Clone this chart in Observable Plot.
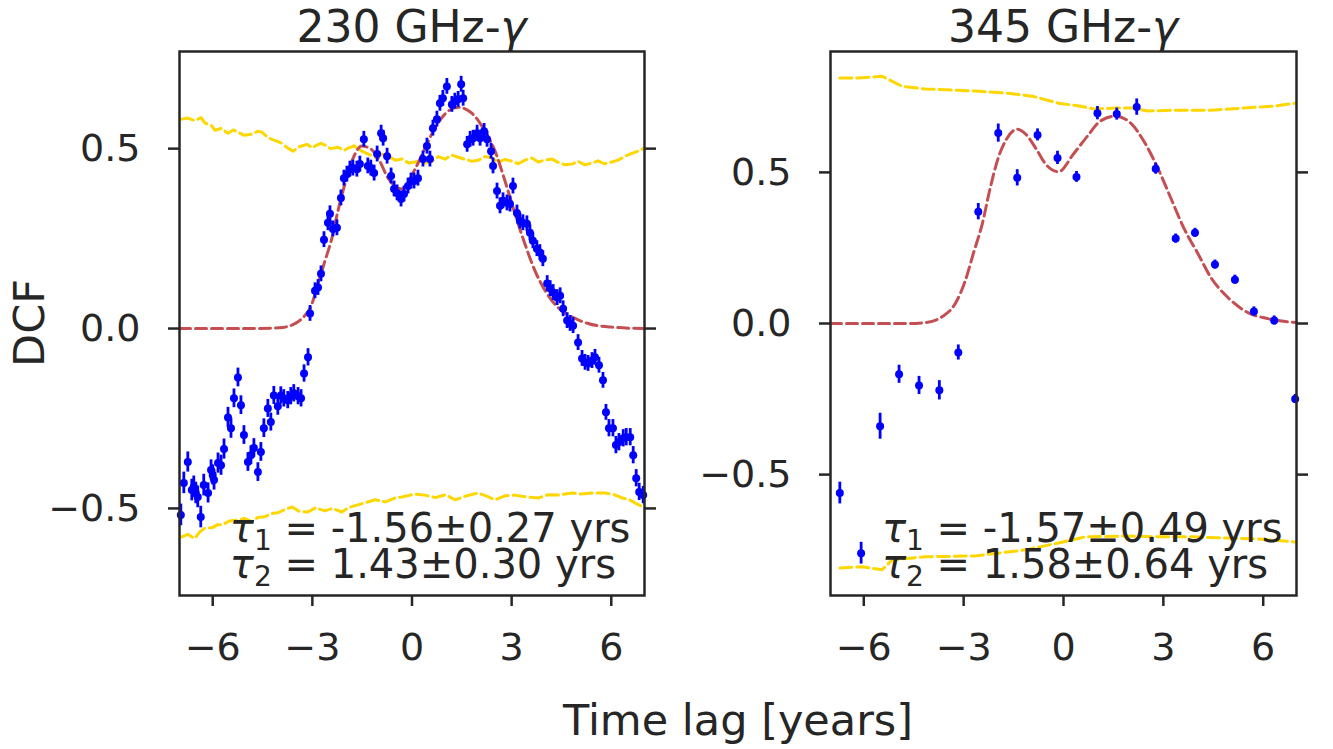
<!DOCTYPE html>
<html><head><meta charset="utf-8">
<script src="https://cdn.jsdelivr.net/npm/d3@7"></script>
<script src="https://cdn.jsdelivr.net/npm/@observablehq/plot@0.6"></script>
<style>
body{margin:0;background:#fff;}
#fig{position:relative;width:1333px;height:749px;background:#fff;overflow:hidden;}
#fig svg{position:absolute;top:0;overflow:visible;}
</style></head><body><div id="fig"></div>
<script>
// ---------- data: 230 GHz panel ----------
const leftTitle = "230 GHz-";
const rightTitle = "345 GHz-";
const xTicks = [-6, -3, 0, 3, 6];
const yTicks = [-0.5, 0, 0.5];

const leftX = [-6.96,-6.87,-6.75,-6.63,-6.57,-6.51,-6.45,-6.36,-6.27,-6.14,-6.05,-6.0,-5.96,-5.84,-5.75,-5.66,-5.54,-5.45,-5.36,-5.24,-5.15,-5.06,-4.94,-4.85,-4.76,-4.64,-4.55,-4.46,-4.34,-4.25,-4.16,-4.04,-3.95,-3.86,-3.74,-3.65,-3.56,-3.43,-3.34,-3.25,-3.13,-3.07,-2.92,-2.83,-2.74,-2.65,-2.53,-2.47,-2.38,-2.26,-2.14,-2.05,-1.96,-1.87,-1.78,-1.66,-1.57,-1.45,-1.33,-1.24,-1.14,-1.05,-0.93,-0.87,-0.75,-0.63,-0.54,-0.45,-0.33,-0.24,-0.12,-0.03,0.06,0.18,0.33,0.45,0.54,0.63,0.75,0.84,0.93,1.05,1.2,1.29,1.39,1.48,1.54,1.66,1.75,1.84,1.96,2.05,2.17,2.26,2.38,2.44,2.56,2.65,2.74,2.86,2.95,3.04,3.16,3.25,3.34,3.46,3.55,3.64,3.76,3.85,3.94,4.07,4.16,4.25,4.37,4.46,4.55,4.67,4.76,4.85,5.0,5.12,5.21,5.3,5.42,5.51,5.63,5.75,5.84,5.93,6.05,6.14,6.23,6.36,6.45,6.57,6.66,6.75,6.84,6.96];
const leftY = [-0.518,-0.429,-0.371,-0.449,-0.44,-0.457,-0.468,-0.524,-0.435,-0.457,-0.393,-0.407,-0.421,-0.374,-0.38,-0.335,-0.247,-0.277,-0.194,-0.136,-0.213,-0.296,-0.371,-0.352,-0.332,-0.399,-0.343,-0.277,-0.222,-0.26,-0.186,-0.216,-0.186,-0.194,-0.199,-0.188,-0.18,-0.188,-0.194,-0.125,-0.08,0.042,0.105,0.114,0.152,0.247,0.294,0.319,0.277,0.28,0.363,0.418,0.429,0.443,0.446,0.443,0.457,0.526,0.452,0.446,0.432,0.485,0.543,0.529,0.479,0.424,0.388,0.377,0.36,0.374,0.396,0.41,0.41,0.418,0.471,0.507,0.471,0.557,0.582,0.626,0.64,0.673,0.623,0.632,0.637,0.679,0.64,0.512,0.526,0.529,0.543,0.529,0.548,0.526,0.493,0.452,0.382,0.341,0.355,0.349,0.346,0.396,0.321,0.299,0.294,0.291,0.266,0.244,0.222,0.211,0.194,0.125,0.111,0.1,0.086,0.091,0.055,0.022,0.014,0.008,-0.039,-0.083,-0.094,-0.097,-0.089,-0.08,-0.102,-0.144,-0.233,-0.277,-0.277,-0.324,-0.316,-0.305,-0.302,-0.302,-0.352,-0.416,-0.454,-0.463];
const leftErr = [0.03,0.03,0.028,0.03,0.03,0.03,0.03,0.03,0.03,0.028,0.028,0.028,0.028,0.028,0.028,0.028,0.028,0.028,0.026,0.026,0.026,0.026,0.026,0.026,0.026,0.026,0.026,0.026,0.025,0.025,0.025,0.025,0.024,0.024,0.024,0.024,0.024,0.024,0.024,0.024,0.024,0.022,0.022,0.022,0.022,0.022,0.022,0.022,0.022,0.022,0.022,0.022,0.022,0.022,0.022,0.022,0.022,0.022,0.022,0.022,0.022,0.022,0.022,0.022,0.022,0.022,0.022,0.022,0.022,0.022,0.022,0.022,0.022,0.022,0.022,0.022,0.022,0.022,0.022,0.022,0.022,0.022,0.022,0.022,0.022,0.022,0.022,0.022,0.022,0.022,0.022,0.022,0.022,0.022,0.022,0.022,0.022,0.022,0.022,0.022,0.022,0.022,0.022,0.022,0.022,0.022,0.022,0.022,0.022,0.022,0.022,0.022,0.022,0.022,0.022,0.022,0.022,0.022,0.022,0.022,0.022,0.022,0.022,0.022,0.022,0.022,0.022,0.022,0.022,0.024,0.024,0.024,0.024,0.024,0.024,0.024,0.024,0.024,0.024,0.024];

const leftModelX = [-7,-5,-4,-3.6,-3.31,-3.01,-2.83,-2.62,-2.41,-2.23,-2.02,-1.81,-1.51,-1.27,-1.02,-0.72,-0.3,0.09,0.39,0.69,0.99,1.39,1.81,2.2,2.5,2.8,3.1,3.4,3.7,4.01,4.4,4.91,5.3,6.0,6.96];
const leftModelY = [0,0,0.002,0.01,0.028,0.069,0.125,0.188,0.252,0.327,0.402,0.465,0.507,0.501,0.474,0.418,0.388,0.443,0.501,0.557,0.596,0.615,0.598,0.548,0.493,0.41,0.319,0.235,0.161,0.105,0.058,0.028,0.014,0.004,0];

const leftUpX = [-6.93,-6.75,-6.54,-6.35,-6.23,-6.05,-5.93,-5.75,-5.54,-5.38,-5.24,-5.05,-4.82,-4.65,-4.52,-4.35,-4.22,-4.05,-3.92,-3.75,-3.58,-3.4,-3.16,-3.0,-2.92,-2.75,-2.62,-2.45,-2.23,-2.05,-1.93,-1.75,-1.51,-1.3,-1.11,-0.9,-0.72,-0.5,-0.3,-0.1,0.09,0.25,0.39,0.6,0.8,0.99,1.2,1.39,1.6,1.81,2.0,2.2,2.41,2.6,2.8,3.01,3.2,3.4,3.61,3.8,4.0,4.22,4.4,4.6,4.82,5.0,5.2,5.42,5.6,5.8,6.02,6.2,6.42,6.6,6.81,6.96];
const leftUpY = [0.582,0.585,0.578,0.586,0.571,0.565,0.551,0.556,0.543,0.552,0.546,0.537,0.54,0.548,0.546,0.532,0.526,0.52,0.515,0.502,0.493,0.505,0.512,0.502,0.507,0.515,0.51,0.5,0.504,0.495,0.501,0.508,0.493,0.484,0.476,0.485,0.479,0.468,0.471,0.46,0.463,0.468,0.46,0.465,0.478,0.471,0.482,0.476,0.47,0.465,0.468,0.478,0.474,0.462,0.47,0.465,0.458,0.468,0.474,0.463,0.468,0.471,0.462,0.455,0.457,0.465,0.455,0.46,0.466,0.458,0.463,0.468,0.479,0.486,0.493,0.5];
const leftLoX = [-6.93,-6.75,-6.54,-6.4,-6.23,-6.02,-5.85,-5.72,-5.5,-5.24,-5.05,-4.82,-4.65,-4.43,-4.25,-4.04,-3.8,-3.61,-3.4,-3.13,-2.9,-2.62,-2.4,-2.11,-1.9,-1.63,-1.4,-1.11,-0.8,-0.51,-0.3,0.09,0.39,0.7,1.0,1.3,1.6,1.99,2.25,2.5,2.8,3.1,3.45,3.8,4.1,4.4,4.82,5.1,5.42,5.81,6.1,6.33,6.55,6.72,6.96];
const leftLoY = [-0.579,-0.572,-0.584,-0.566,-0.554,-0.554,-0.545,-0.546,-0.535,-0.532,-0.528,-0.537,-0.525,-0.523,-0.515,-0.512,-0.502,-0.496,-0.508,-0.51,-0.498,-0.507,-0.5,-0.51,-0.497,-0.49,-0.484,-0.476,-0.482,-0.471,-0.468,-0.46,-0.463,-0.47,-0.462,-0.476,-0.466,-0.457,-0.466,-0.476,-0.465,-0.463,-0.468,-0.471,-0.462,-0.463,-0.457,-0.46,-0.457,-0.457,-0.462,-0.471,-0.476,-0.485,-0.496];

// ---------- data: 345 GHz panel ----------
const rightX = [-6.72,-6.08,-5.51,-4.94,-4.34,-3.73,-3.16,-2.56,-1.96,-1.39,-0.78,-0.18,0.39,1.02,1.6,2.2,2.77,3.37,3.95,4.55,5.15,5.72,6.33,6.96];
const rightY = [-0.561,-0.76,-0.34,-0.168,-0.205,-0.221,-0.096,0.37,0.63,0.482,0.624,0.548,0.485,0.696,0.693,0.716,0.512,0.281,0.3,0.195,0.145,0.04,0.01,-0.25];
const rightErr = [0.036,0.036,0.043,0.03,0.03,0.032,0.025,0.027,0.03,0.027,0.02,0.022,0.018,0.022,0.02,0.027,0.018,0.015,0.015,0.015,0.015,0.015,0.015,0.015];

const rightModelX = [-7,-5.5,-4.6,-4.16,-3.64,-3.25,-2.95,-2.71,-2.44,-2.2,-1.96,-1.69,-1.39,-1.14,-0.84,-0.54,-0.15,0.3,0.72,1.11,1.57,2.02,2.41,2.83,3.22,3.61,4.04,4.43,4.94,5.54,6.14,7];
const rightModelY = [0,0,0,0.003,0.023,0.066,0.142,0.231,0.33,0.449,0.548,0.614,0.643,0.627,0.581,0.528,0.502,0.561,0.62,0.67,0.686,0.663,0.604,0.515,0.416,0.317,0.231,0.152,0.086,0.036,0.016,0.003];

const rightUpX = [-6.72,-6.17,-5.45,-4.85,-4.16,-2.65,-1.66,-0.93,-0.15,0.51,0.9,1.63,2.11,2.53,3.43,4.43,5.42,6.33,6.96];
const rightUpY = [0.812,0.812,0.818,0.785,0.776,0.769,0.762,0.752,0.729,0.719,0.71,0.713,0.713,0.703,0.706,0.706,0.713,0.719,0.729];
const rightLoX = [-6.72,-6.05,-5.45,-5.15,-4.16,-2.65,-1.14,-0.15,0.66,1.87,2.86,3.89,4.88,5.87,6.96];
const rightLoY = [-0.809,-0.805,-0.815,-0.782,-0.772,-0.769,-0.749,-0.726,-0.706,-0.703,-0.706,-0.706,-0.71,-0.713,-0.723];

const leftTau = [["1", "-1.56±0.27 yrs"], ["2", "1.43±0.30 yrs"]];
const rightTau = [["1", "-1.57±0.49 yrs"], ["2", "1.58±0.64 yrs"]];

// ---------- drawing ----------
const INK = "#262626";
const FONT = "DejaVu Sans";
const fig = d3.select("#fig");
const zip = (xs, ys) => xs.map((x, i) => ({x, y: ys[i]}));

function panel({left, width, mLeft, mRight, yDomain, pts, err, model, up, lo, title, tau, tauX, tauY}) {
  const data = pts.map((d, i) => ({...d, e: err[i]}));
  const plot = Plot.plot({
    width, height: 749,
    marginLeft: mLeft, marginRight: mRight, marginTop: 51, marginBottom: 154,
    x: {domain: [-7, 7]},
    y: {domain: yDomain},
    style: {fontFamily: FONT, fontSize: "38px", color: INK, background: "transparent", overflow: "visible"},
    marks: [
      Plot.line(up, {x: "x", y: "y", stroke: "#ffd700", strokeWidth: 3, strokeDasharray: "12,5"}),
      Plot.line(lo, {x: "x", y: "y", stroke: "#ffd700", strokeWidth: 3, strokeDasharray: "12,5"}),
      Plot.line(model, {x: "x", y: "y", stroke: "#c44e52", strokeWidth: 3, strokeDasharray: "11,5", curve: "monotone-x"}),
      Plot.ruleX(data, {x: "x", y1: d => d.y - d.e, y2: d => d.y + d.e, stroke: "#0000ff", strokeWidth: 2.8}),
      Plot.dot(data, {x: "x", y: "y", r: 4, fill: "#0000ff", stroke: "none"}),
      Plot.axisX({ticks: xTicks, tickFormat: d3.format("d"), tickSize: 11, tickPadding: 27, label: null, strokeWidth: 2.5, fontSize: 38}),
      Plot.axisY({anchor: "left", ticks: yTicks, tickFormat: d3.format(".1f"), tickSize: 11, tickPadding: 28, label: null, strokeWidth: 2.5, fontSize: 38}),
      Plot.axisY({anchor: "right", ticks: yTicks, tickFormat: () => "", tickSize: 11, label: null, strokeWidth: 2.5}),
      Plot.frame({stroke: INK, strokeWidth: 2.5})
    ]
  });
  const node = fig.node().appendChild(plot);
  const svg = d3.select(node).style("left", left + "px");
  const xs = plot.scale("x"), ys = plot.scale("y");
  const cx = (xs.apply(-7) + xs.apply(7)) / 2;
  const t = svg.append("text").attr("x", cx).attr("y", 42).attr("text-anchor", "middle")
    .attr("font-family", FONT).attr("font-size", 44).attr("fill", INK);
  t.append("tspan").text(title);
  t.append("tspan").attr("font-style", "italic").text("γ");
  tau.forEach(([sub, rest], i) => {
    const tt = svg.append("text").attr("x", xs.apply(tauX)).attr("y", ys.apply(tauY[i]))
      .attr("text-anchor", "start")
      .attr("font-family", FONT).attr("font-size", 40).attr("fill", INK);
    tt.append("tspan").attr("font-style", "italic").text("τ");
    tt.append("tspan").attr("font-size", 28).attr("dy", 8).text(sub);
    tt.append("tspan").attr("dy", -8).text(" = " + rest);
  });
  return svg;
}

const lsvg = panel({
  left: 0, width: 665, mLeft: 179, mRight: 21, yDomain: [-0.742, 0.770],
  pts: zip(leftX, leftY), err: leftErr, model: zip(leftModelX, leftModelY),
  up: zip(leftUpX, leftUpY), lo: zip(leftLoX, leftLoY),
  title: leftTitle, tau: leftTau, tauX: -5.47, tauY: [-0.594, -0.694]
});
const rsvg = panel({
  left: 665, width: 668, mLeft: 165, mRight: 37, yDomain: [-0.9, 0.9],
  pts: zip(rightX, rightY), err: rightErr, model: zip(rightModelX, rightModelY),
  up: zip(rightUpX, rightUpY), lo: zip(rightLoX, rightLoY),
  title: rightTitle, tau: rightTau, tauX: -5.44, tauY: [-0.725, -0.844]
});

// shared labels
lsvg.append("text").attr("transform", "translate(44,323) rotate(-90)").attr("text-anchor", "middle")
  .attr("font-family", FONT).attr("font-size", 43).attr("fill", INK).text("DCF");
lsvg.append("text").attr("x", 738).attr("y", 735).attr("text-anchor", "middle")
  .attr("font-family", FONT).attr("font-size", 43).attr("fill", INK).text("Time lag [years]");
</script></body></html>
